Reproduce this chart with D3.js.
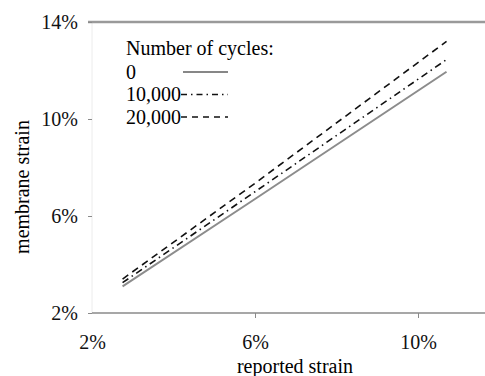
<!DOCTYPE html>
<html>
<head>
<meta charset="utf-8">
<script src="https://cdn.jsdelivr.net/npm/d3@7"></script>
<style>
  body { margin: 0; background: #fff; }
  svg { display: block; font-family: "Liberation Serif", "DejaVu Serif", serif; }
  .axis path, .axis line { stroke: #8a8a8a; }
  .axis text { font-family: "Liberation Serif", serif; font-size: 20px; fill: #111; }
</style>
</head>
<body>
<svg id="chart" width="485" height="376"></svg>
<script>
// reported strain (%) vs membrane strain (%)
const cycles = ["0", "10,000", "20,000"];
const reported = [2.75, 6.0, 10.7];
const strain0 = [3.1, 6.7, 11.95];
const strain10k = [3.25, 7.0, 12.45];
const strain20k = [3.4, 7.35, 13.2];
const xTicks = [2, 6, 10];
const yTicks = [2, 6, 10, 14];

const series = [
  { name: cycles[0], values: strain0, color: "#8c8c8c", dash: null, width: 2 },
  { name: cycles[1], values: strain10k, color: "#111", dash: "7,4,1.5,4", width: 1.6 },
  { name: cycles[2], values: strain20k, color: "#111", dash: "7,5", width: 1.6 }
];

const svg = d3.select("#chart");
const x = d3.scaleLinear().domain([2, 10]).range([92, 418]);
const y = d3.scaleLinear().domain([2, 14]).range([313, 22]);

// faint left edge of the plot
svg.append("line")
  .attr("x1", x(2)).attr("x2", x(2))
  .attr("y1", y(14)).attr("y2", y(2))
  .attr("stroke", "#ececec").attr("stroke-width", 1);

// top border
svg.append("line")
  .attr("x1", 88).attr("x2", 485)
  .attr("y1", y(14)).attr("y2", y(14))
  .attr("stroke", "#9a9a9a").attr("stroke-width", 2.5);

// x axis
const xAxis = svg.append("g")
  .attr("class", "axis")
  .attr("transform", "translate(0," + y(2) + ")")
  .call(d3.axisBottom(x).tickValues(xTicks).tickSize(5).tickPadding(17)
    .tickFormat(d => d + "%"));
xAxis.select(".domain").attr("d", "M" + x(2) + ",0H485").attr("stroke-width", 1.5);
xAxis.selectAll(".tick").filter(d => d === 2).select("line").remove();

// y axis
const yAxis = svg.append("g")
  .attr("class", "axis")
  .attr("transform", "translate(" + x(2) + ",0)")
  .call(d3.axisLeft(y).tickValues(yTicks).tickSize(4).tickPadding(10)
    .tickFormat(d => d + "%"));
yAxis.select(".domain").remove();
yAxis.selectAll(".tick line").attr("stroke", "#c8c8c8");

// axis titles
svg.append("text")
  .attr("x", 295).attr("y", 373)
  .attr("text-anchor", "middle")
  .style("font-size", "20px")
  .text("reported strain");

svg.append("text")
  .attr("transform", "translate(29,187) rotate(-90)")
  .attr("text-anchor", "middle")
  .style("font-size", "20px")
  .text("membrane strain");

// lines
const line = d3.line()
  .x((d, i) => x(reported[i]))
  .y(d => y(d));

svg.append("g").selectAll("path")
  .data(series)
  .enter().append("path")
  .attr("d", d => line(d.values))
  .attr("fill", "none")
  .attr("stroke", d => d.color)
  .attr("stroke-width", d => d.width)
  .attr("stroke-dasharray", d => d.dash);

// legend
const legend = svg.append("g").attr("transform", "translate(126,0)");
legend.append("text")
  .attr("x", 0).attr("y", 55)
  .style("font-size", "20px")
  .text("Number of cycles:");

const item = legend.selectAll(".item")
  .data(series)
  .enter().append("g")
  .attr("class", "item")
  .attr("transform", (d, i) => "translate(0," + (72 + i * 22.5) + ")");

item.append("text")
  .attr("y", 6.5)
  .style("font-size", "20px")
  .text(d => d.name);

item.append("line")
  .attr("x1", (d, i) => i === 0 ? 57 : 55).attr("x2", 102)
  .attr("stroke", "#111")
  .attr("stroke-width", (d, i) => i === 0 ? 1.2 : 1.4)
  .attr("stroke-dasharray", d => d.dash ? (d.dash === "7,5" ? "6,5" : "6,4,1.5,4") : null);
</script>
</body>
</html>
